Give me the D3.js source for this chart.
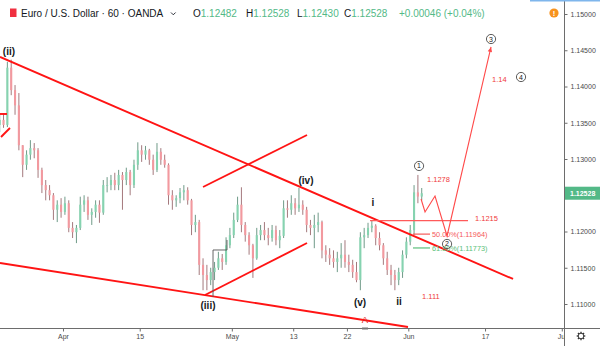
<!DOCTYPE html>
<html><head><meta charset="utf-8">
<script src="https://cdn.jsdelivr.net/npm/d3@7"></script>
<style>html,body{margin:0;padding:0;background:#fff;}svg{display:block;}</style>
</head><body>
<svg id="chart" width="600" height="346"></svg>
<script>
// ---------- DATA ----------
// 12-hour candles, EUR/USD, first candle = 2019-03-19 PM session, last = 2019-06-04 PM session
const firstTradingDay = "2019-03-19";
const lastTradingDay = "2019-06-04";
const opens = [
 1.1347,1.1354,1.1347,1.1426,1.1395,1.1374,1.1319,1.1292,1.1306,1.1315,1.1312,1.1285,1.1264,1.1257,1.1250,1.1230,1.1237,
 1.1227,1.1239,1.1205,1.1199,1.1205,1.1237,1.1243,1.1223,1.1227,1.1237,
 1.1226,1.1264,1.1264,1.1271,1.1264,1.1278,1.1271,1.1282,1.1264,1.1292,
 1.1312,1.1306,1.1312,1.1299,1.1285,1.1310,1.1299,1.1292,1.1250,1.1243,
 1.1246,1.1254,1.1257,1.1243,1.1209,1.1213,1.1154,1.1140,1.1133,1.1144,
 1.1150,1.1163,1.1158,1.1181,1.1195,1.1216,1.1237,1.1209,1.1195,1.1181,
 1.1163,1.1195,1.1202,1.1195,1.1191,1.1202,1.1188,1.1194,1.1232,1.1230,
 1.1239,1.1232,1.1237,1.1230,1.1209,1.1205,1.1209,1.1213,1.1174,1.1168,
 1.1163,1.1158,1.1163,1.1168,1.1158,1.1154,1.1144,1.1133,1.1192,1.1195,
 1.1205,1.1208,1.1191,1.1181,1.1163,1.1147,1.1140,1.1133,1.1144,1.1168,
 1.1186,1.1202,1.1254,1.12482];
const highs = [
 1.1361,1.1363,1.1434,1.1437,1.1402,1.1391,1.1319,1.1312,1.1326,1.1322,1.1315,1.1288,1.1271,1.1264,1.1253,1.1243,1.1246,
 1.1248,1.1243,1.1213,1.1209,1.1248,1.1250,1.1248,1.1232,1.1243,1.1243,
 1.1271,1.1275,1.1278,1.1281,1.1285,1.1282,1.1288,1.1285,1.1299,1.1323,
 1.1319,1.1318,1.1314,1.1306,1.1322,1.1315,1.1306,1.1294,1.1257,1.1250,
 1.1260,1.1264,1.1261,1.1245,1.1223,1.1216,1.1163,1.1154,1.1150,1.1158,
 1.1172,1.1169,1.1192,1.1205,1.1226,1.1248,1.1261,1.1213,1.1199,1.1183,
 1.1205,1.1209,1.1213,1.1205,1.1209,1.1208,1.1202,1.1243,1.1243,1.1250,
 1.1246,1.1260,1.1243,1.1234,1.1216,1.1223,1.1226,1.1215,1.1181,1.1177,
 1.1174,1.1172,1.1184,1.1188,1.1168,1.1161,1.1158,1.1199,1.1205,1.1212,
 1.1215,1.1210,1.1199,1.1184,1.1172,1.1154,1.1147,1.1150,1.1174,1.1192,
 1.1209,1.1264,1.1278,1.1260];
const lows = [
 1.1337,1.1343,1.1344,1.1388,1.1361,1.1312,1.1275,1.1285,1.1299,1.1301,1.1274,1.1253,1.1243,1.1243,1.1216,1.1213,1.1219,
 1.1223,1.1199,1.1191,1.1184,1.1202,1.1227,1.1216,1.1209,1.1219,1.1212,
 1.1223,1.1254,1.1257,1.1257,1.1257,1.1230,1.1264,1.1250,1.1260,1.1285,
 1.1296,1.1299,1.1292,1.1278,1.1282,1.1292,1.1288,1.1237,1.1230,1.1234,
 1.1239,1.1243,1.1237,1.1195,1.1199,1.1140,1.1119,1.1119,1.1126,1.1133,
 1.1147,1.1147,1.1154,1.1177,1.1191,1.1213,1.1199,1.1186,1.1168,1.1136,
 1.1161,1.1188,1.1188,1.1181,1.1186,1.1181,1.1177,1.1191,1.1219,1.1223,
 1.1223,1.1227,1.1223,1.1199,1.1195,1.1177,1.1199,1.1163,1.1158,1.1154,
 1.1150,1.1144,1.1150,1.1150,1.1144,1.1136,1.1130,1.1119,1.1177,1.1191,
 1.1199,1.1181,1.1174,1.1154,1.1140,1.1126,1.1119,1.1126,1.1136,1.1163,
 1.1181,1.1195,1.1239,1.1243];
const closes = [
 1.1354,1.1347,1.1426,1.1395,1.1374,1.1319,1.1292,1.1306,1.1315,1.1312,1.1285,1.1264,1.1257,1.1250,1.1230,1.1237,1.1227,
 1.1239,1.1205,1.1199,1.1205,1.1237,1.1243,1.1223,1.1227,1.1237,1.1226,
 1.1264,1.1264,1.1271,1.1264,1.1278,1.1271,1.1282,1.1264,1.1292,1.1312,
 1.1306,1.1312,1.1299,1.1285,1.1310,1.1299,1.1292,1.1250,1.1243,1.1246,
 1.1254,1.1257,1.1243,1.1209,1.1213,1.1154,1.1140,1.1133,1.1144,1.1150,
 1.1163,1.1158,1.1181,1.1195,1.1216,1.1237,1.1209,1.1195,1.1181,1.1163,
 1.1195,1.1202,1.1195,1.1191,1.1202,1.1188,1.1194,1.1232,1.1230,1.1239,
 1.1232,1.1237,1.1230,1.1209,1.1205,1.1209,1.1213,1.1174,1.1168,1.1163,
 1.1158,1.1163,1.1168,1.1158,1.1154,1.1144,1.1133,1.1192,1.1195,1.1205,
 1.1208,1.1191,1.1181,1.1163,1.1147,1.1140,1.1133,1.1144,1.1168,1.1186,
 1.1202,1.1254,1.12482,1.12528];

const priceTicks = [1.11,1.115,1.12,1.13,1.135,1.14,1.145,1.15];
const timeTickDates = ["2019-04-01","2019-04-15","2019-05-01","2019-05-13","2019-05-22","2019-06-03","2019-06-17","2019-07-01"];
const timeTickLabels = ["Apr","15","May","13","22","Jun","17","Jul"];

const header = {title:"Euro / U.S. Dollar · 60 · OANDA", O:"1.12482", H:"1.12528", L:"1.12430", C:"1.12528", chg:"+0.00046 (+0.04%)"};

// drawings, in (trading-day index from 2019-04-01, price)
const boldLines = [
 [[-8.21,1.14407],[58.65,1.11345]],
 [[-8.21,1.11566],[44.96,1.10683]],
 [[18.25,1.12614],[31.80,1.13331]],
 [[18.51,1.11124],[31.80,1.11841]],
 [[-8.21,1.13621],[-7.30,1.13621]],
 [[-8.08,1.13303],[-6.91,1.13427]]
];
const projection = [[46.66,1.12448],[47.18,1.12269],[48.48,1.12490],[50.05,1.11938],[55.78,1.14545]];
const stepLine = [[19.55,1.11097],[19.55,1.11745],[21.37,1.11745],[21.37,1.11883]];
const levelLine = {t1:40.01, t2:52.78, p:1.1215};
const fibLevels = [{t1:45.61,t2:47.83,p:1.11964,label:"50.00%(1.11964)",color:"#f55a5a"},
                   {t1:45.61,t2:47.83,p:1.11773,label:"61.80%(1.11773)",color:"#5cbf7a"}];
const waveLabels = [
 {text:"(ii)",t:-7.04,p:1.14435},{text:"(iii)",t:18.90,p:1.10931},{text:"(iv)",t:31.67,p:1.12655},
 {text:"(v)",t:38.71,p:1.10972},{text:"i",t:40.40,p:1.12352},{text:"ii",t:43.79,p:1.10986}];
const redLabels = [
 {text:"1.1278",t:47.44,p:1.12683},{text:"1.1215",t:53.69,p:1.12145},{text:"1.111",t:46.79,p:1.11069},
 {text:"1.14",t:55.91,p:1.14062}];
const fibLabelPos = {t:48.09};
const circleLabels = [{n:"1",t:46.4,p:1.12904},{n:"2",t:50.05,p:1.11828},{n:"3",t:55.78,p:1.14655},{n:"4",t:59.69,p:1.14131}];
const waveA = {text:"A",t:39.36,p:1.10738};

// ---------- HELPERS ----------
const DAY = 86400000;
function parse(s){return new Date(s+"T00:00:00Z");}
function isWeekday(d){const w=d.getUTCDay();return w!==0&&w!==6;}
const origin = parse("2019-04-01");
function tradingIndex(s){
  const d=parse(s); let n=0;
  if(d>=origin){for(let c=origin.getTime();c<d.getTime();c+=DAY){if(isWeekday(new Date(c)))n++;}return n;}
  for(let c=d.getTime();c<origin.getTime();c+=DAY){if(isWeekday(new Date(c)))n++;}return -n;
}
const sessions=[];
for(let c=parse(firstTradingDay).getTime();c<=parse(lastTradingDay).getTime();c+=DAY){
  const d=new Date(c); if(!isWeekday(d))continue;
  const idx=tradingIndex(d.toISOString().slice(0,10));
  sessions.push(idx+0.25, idx+0.75);
}
sessions.shift();
const bars = opens.map((o,i)=>({t:sessions[i],o:o,h:highs[i],l:lows[i],c:closes[i]}));

// ---------- SCALES ----------
const W=600,H=346,plotR=564,plotB=328;
const x=d3.scaleLinear().domain([-8.21,65.29]).range([0,plotR]);
const y=d3.scaleLinear().domain([1.11,1.15]).range([304,14]);

const svg=d3.select("#chart");
svg.append("rect").attr("width",W).attr("height",H).attr("fill","#fff");
const defs=svg.append("defs");
defs.append("clipPath").attr("id","plot").append("rect").attr("x",0).attr("y",0).attr("width",plotR).attr("height",plotB);

const plot=svg.append("g").attr("clip-path","url(#plot)");

// candles
const bw = (x(0.5)-x(0))*0.55;
const cg=plot.append("g");
cg.selectAll("line.w").data(bars).join("line").attr("class","w")
  .attr("x1",d=>x(d.t)).attr("x2",d=>x(d.t)).attr("y1",d=>y(d.h)).attr("y2",d=>y(d.l))
  .attr("stroke",d=>d.c>=d.o?"#5f8f7a":"#9a6a6e").attr("stroke-width",0.9);
cg.selectAll("rect.b").data(bars).join("rect").attr("class","b")
  .attr("x",d=>x(d.t)-bw/2).attr("width",bw)
  .attr("y",d=>y(Math.max(d.o,d.c))).attr("height",d=>Math.max(0.8,Math.abs(y(d.o)-y(d.c))))
  .attr("fill",d=>d.c>=d.o?"#86d3b0":"#f2999f");

// drawings
const line=d3.line().x(d=>x(d[0])).y(d=>y(d[1]));
plot.selectAll("path.bold").data(boldLines).join("path").attr("class","bold")
  .attr("d",line).attr("fill","none").attr("stroke","#ff1414").attr("stroke-width",1.9);
plot.append("path").attr("d",line(stepLine)).attr("fill","none").attr("stroke","#555").attr("stroke-width",0.9);
plot.append("line").attr("x1",x(levelLine.t1)).attr("x2",x(levelLine.t2)).attr("y1",y(levelLine.p)).attr("y2",y(levelLine.p))
  .attr("stroke","#ff5a5a").attr("stroke-width",1.2);
fibLevels.forEach(f=>{
  plot.append("line").attr("x1",x(f.t1)).attr("x2",x(f.t2)).attr("y1",y(f.p)).attr("y2",y(f.p)).attr("stroke",f.color).attr("stroke-width",1.2);
  plot.append("text").attr("x",x(fibLabelPos.t)).attr("y",y(f.p)+2.6).attr("fill",f.color)
    .attr("font-family","Liberation Sans, Arial, sans-serif").attr("font-size",7.3).text(f.label);
});
plot.append("path").attr("d",line(projection)).attr("fill","none").attr("stroke","#ff4a4a").attr("stroke-width",1.1);
{
  const a=projection[projection.length-2], b=projection[projection.length-1];
  const x1=x(a[0]),y1=y(a[1]),x2=x(b[0]),y2=y(b[1]);
  const ang=Math.atan2(y2-y1,x2-x1), L=5, Wd=2.2;
  const bx=x2-L*Math.cos(ang), by=y2-L*Math.sin(ang);
  const px=-Math.sin(ang)*Wd, py=Math.cos(ang)*Wd;
  plot.append("path").attr("d",`M${x2},${y2}L${bx+px},${by+py}L${bx-px},${by-py}Z`).attr("fill","#ff4a4a");
}
const cgp=plot.selectAll("g.circ").data(circleLabels).join("g").attr("class","circ")
  .attr("transform",d=>`translate(${x(d.t)},${y(d.p)})`);
cgp.append("circle").attr("r",4.6).attr("fill","none").attr("stroke","#333").attr("stroke-width",0.8);
cgp.append("text").attr("text-anchor","middle").attr("y",2.5).attr("font-size",7).attr("fill","#222")
  .attr("font-family","Liberation Sans, Arial, sans-serif").text(d=>d.n);
plot.selectAll("text.wave").data(waveLabels).join("text").attr("class","wave")
  .attr("x",d=>x(d.t)).attr("y",d=>y(d.p)).attr("text-anchor","middle")
  .attr("font-family","Liberation Sans, Arial, sans-serif").attr("font-weight","bold").attr("font-size",10)
  .attr("fill","#131722").text(d=>d.text);
plot.selectAll("text.red").data(redLabels).join("text").attr("class","red")
  .attr("x",d=>x(d.t)).attr("y",d=>y(d.p))
  .attr("font-family","Liberation Sans, Arial, sans-serif").attr("font-size",7.5)
  .attr("fill","#f03a3a").text(d=>d.text);
plot.append("text").attr("x",x(waveA.t)).attr("y",y(waveA.p)).attr("text-anchor","middle")
  .attr("font-family","Liberation Sans, Arial, sans-serif").attr("font-size",9.5).attr("fill","#e02020").text(waveA.text);

// ---------- AXES ----------
const font="Liberation Sans, Arial, sans-serif";
svg.append("line").attr("x1",plotR+0.5).attr("x2",plotR+0.5).attr("y1",0).attr("y2",H).attr("stroke","#6d6d6d").attr("stroke-width",1);
svg.append("line").attr("x1",0).attr("x2",W).attr("y1",plotB+0.5).attr("y2",plotB+0.5).attr("stroke","#6d6d6d").attr("stroke-width",1);

const ya=svg.append("g").attr("transform",`translate(${plotR+0.5},0)`)
  .call(d3.axisRight(y).tickValues(priceTicks).tickSize(3).tickPadding(3).tickFormat(d3.format(".5f")));
ya.select(".domain").remove();
ya.selectAll("line").attr("stroke","#6d6d6d");
ya.selectAll("text").attr("font-family",font).attr("font-size",7).attr("fill","#4a4a4a");

const xg=svg.append("g").attr("clip-path","url(#xclip)");
defs.append("clipPath").attr("id","xclip").append("rect").attr("x",0).attr("y",plotB).attr("width",plotR).attr("height",H-plotB);
const xa=xg.append("g").attr("transform",`translate(0,${plotB+0.5})`)
  .call(d3.axisBottom(x).tickValues(timeTickDates.map(tradingIndex)).tickSize(3).tickPadding(3)
    .tickFormat((d,i)=>timeTickLabels[i]));
xa.select(".domain").remove();
xa.selectAll("line").attr("stroke","#6d6d6d");
xa.selectAll("text").attr("font-family",font).attr("font-size",7).attr("fill","#4a4a4a");
svg.append("rect").attr("x",x(waveA.t)-3).attr("y",plotB-0.5).attr("width",6).attr("height",2).attr("fill","#777");

// current price label
const last=closes[closes.length-1];
svg.append("rect").attr("x",plotR+1).attr("y",y(last)-6.5).attr("width",W-plotR-1).attr("height",13).attr("fill","#53b987");
svg.append("text").attr("x",plotR+6).attr("y",y(last)+2.5).attr("font-family",font).attr("font-size",7)
  .attr("font-weight","bold").attr("fill","#fff").text(d3.format(".5f")(last));

// gear icon
{
  const g=svg.append("g").attr("transform","translate(581,336)");
  for(let i=0;i<8;i++){const a=i*Math.PI/4;g.append("line").attr("x1",Math.cos(a)*2.5).attr("y1",Math.sin(a)*2.5)
    .attr("x2",Math.cos(a)*4.3).attr("y2",Math.sin(a)*4.3).attr("stroke","#333").attr("stroke-width",1.3);}
  g.append("circle").attr("r",2.8).attr("fill","#fff").attr("stroke","#333").attr("stroke-width",1);
}

// ---------- HEADER ----------
svg.append("rect").attr("x",530).attr("y",0).attr("width",70).attr("height",1.5).attr("fill","#7fb6ec");
svg.append("rect").attr("x",10).attr("y",8.5).attr("width",6.5).attr("height",8.5).attr("fill","#f03040");
svg.append("text").attr("x",21).attr("y",17).attr("font-family",font).attr("font-size",10).attr("fill","#131722").text(header.title);
svg.append("path").attr("d","M171,12.5L173.3,14.8L175.6,12.5").attr("fill","none").attr("stroke","#131722").attr("stroke-width",0.9);
const hv=[["O",header.O,193],["H",header.H,246],["L",header.L,297],["C",header.C,344]];
hv.forEach(([k,v,px])=>{
  const t=svg.append("text").attr("x",px).attr("y",17).attr("font-family",font).attr("font-size",10);
  t.append("tspan").attr("fill","#131722").text(k);
  t.append("tspan").attr("fill","#53b987").text(v);
});
svg.append("text").attr("x",399).attr("y",17).attr("font-family",font).attr("font-size",10).attr("fill","#53b987").text(header.chg);
svg.append("circle").attr("cx",554).attr("cy",13).attr("r",4.6).attr("fill","#f7931e");
svg.append("text").attr("x",554).attr("y",16).attr("text-anchor","middle").attr("font-family",font).attr("font-size",7.5)
  .attr("font-weight","bold").attr("fill","#fff").text("!");
</script>
</body></html>
